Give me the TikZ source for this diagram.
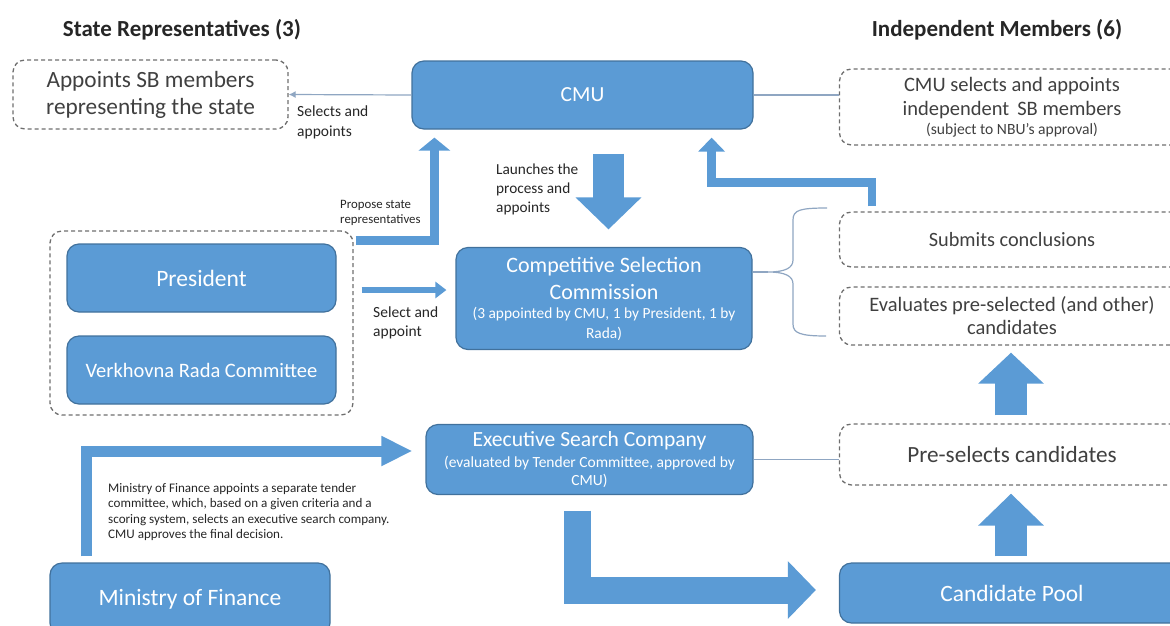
\documentclass[tikz,border=0pt]{standalone}
\usepackage{fontspec}
\setmainfont{Carlito}
\usetikzlibrary{arrows.meta,calc}
\newcommand\fpx[2]{\fontsize{#1pt}{#2pt}\selectfont}
\definecolor{bfill}{HTML}{5B9BD5}
\definecolor{bdraw}{HTML}{41719C}
\definecolor{dgray}{HTML}{6E6E6E}
\definecolor{tgray}{HTML}{404040}
\definecolor{lline}{HTML}{8FA6C2}
\tikzset{
  bluebox/.style={draw=bdraw, fill=bfill, rounded corners=12pt, line width=1.2pt, text=white, align=center, inner sep=0pt},
  dashbox/.style={draw=dgray, dash pattern=on 4pt off 3pt, rounded corners=12pt, line width=1.3pt, text=tgray, align=center, inner sep=0pt},
  thinline/.style={draw=lline, line width=1.2pt},
  blockarrow/.style={draw=bfill, line join=miter},
  lbl/.style={text=black!85, align=left, anchor=west, inner sep=0pt},
}
\begin{document}
\begin{tikzpicture}[x=1pt, y=-1pt]
\useasboundingbox (0,0) rectangle (1170,625);
\begin{scope}
\clip (0,0) rectangle (1170,625);
% titles
\node[font=\bfseries\fpx{23}{26}, text=black!85] (t1) at (182,29.5) {State Representatives (3)};
\node[font=\bfseries\fpx{23}{26}, text=black!85] (t2) at (997,29.5) {Independent Members (6)};

% dashed boxes
\node[dashbox, minimum width=275pt, minimum height=69pt, font=\fpx{23.3}{27}] (appt) at (150.5,94.5) {Appoints SB members\\representing the state};
\node[dashbox, minimum width=345pt, minimum height=76pt, font=\fpx{20.5}{19}] (indep) at (1012,107) {CMU selects and appoints\\[5pt]independent\, SB members\\\fpx{15.6}{19}(subject to NBU’s approval)};
\node[dashbox, minimum width=345pt, minimum height=55pt, font=\fpx{20.3}{23}] (submits) at (1012,239.5) {Submits conclusions};
\node[dashbox, minimum width=345pt, minimum height=58pt, font=\fpx{20.5}{23}] (evals) at (1012,316) {Evaluates pre-selected (and other)\\candidates};
\node[dashbox, minimum width=345pt, minimum height=61pt, font=\fpx{23.2}{24}] (presel) at (1012,454.5) {Pre-selects candidates};
\node[dashbox, minimum width=303pt, minimum height=184pt] (grp) at (201.5,323) {};

% blue boxes
\node[bluebox, minimum width=341pt, minimum height=68pt, font=\fpx{21.5}{24}] (cmu) at (582.5,95) {CMU};
\node[bluebox, minimum width=269pt, minimum height=68pt, font=\fpx{23.5}{24}] (pres) at (201.5,278) {President};
\node[bluebox, minimum width=269pt, minimum height=68pt, font=\fpx{20.5}{24}] (vrc) at (201.5,370) {Verkhovna Rada Committee};
\node[bluebox, minimum width=296pt, minimum height=102pt, font=\fpx{22}{20}] (csc) at (604,298.5) {Competitive Selection\\[7pt]Commission\\[-1pt]\fpx{15.4}{20}(3 appointed by CMU, 1 by President, 1 by\\\fpx{15.4}{20}Rada)};
\node[bluebox, minimum width=327pt, minimum height=70pt, font=\fpx{21.6}{18}] (esc) at (589.5,459.5) {Executive Search Company\\[3pt]\fpx{15.5}{18}(evaluated by Tender Committee, approved by\\\fpx{15.5}{18}CMU)};
\node[bluebox, minimum width=280pt, minimum height=72pt, font=\fpx{23.5}{24}] (mof) at (190,599) {Ministry of Finance};
\node[bluebox, minimum width=345pt, minimum height=60pt, font=\fpx{23.4}{24}] (pool) at (1012,593) {Candidate Pool};

% thin connectors
\draw[thinline, -{Latex[length=7pt, width=7pt]}] (cmu.west) -- (appt.east);
\draw[thinline] (cmu.east) -- (indep.west |- cmu.east);
\draw[thinline] (esc.east) -- (presel.west |- esc.east);
\coordinate (bt) at (768,272);
\draw[thinline] (csc.east |- bt) -- (bt);
\draw[lline, line width=1.2pt] (827,208) .. controls (800,208) and (793,210) .. (793,220) -- (793,260) .. controls (793,268) and (785,272) .. (bt) .. controls (785,272) and (793,276) .. (793,284) -- (793,324) .. controls (793,333) and (800,336) .. (826,336);

% block arrows
\draw[blockarrow, line width=31pt, -{Triangle[width=64pt, length=32pt]}] ($(cmu.south)+(26,24)$) -- ($(csc.north)+(4.5,-17.5)$);
\draw[blockarrow, line width=8.5pt, -{Triangle[width=31pt, length=13pt]}] ($(grp.north east)+(2,10)$) -| ($(cmu.south west)+(23,8)$);
\draw[blockarrow, line width=8.5pt, -{Triangle[width=26pt, length=14pt]}] ($(submits.north west)+(33,-5)$) -- ++(0,-24) -| ($(cmu.south east)+(-42,8)$);
\draw[blockarrow, line width=6pt, -{Triangle[width=16pt, length=11pt]}] ($(grp.east)+(8,-33)$) -- ($(csc.west)+(-9,-8.5)$);
\draw[blockarrow, line width=11pt, -{Triangle[width=28pt, length=31pt]}] ($(mof.north west)+(37.5,-6)$) |- ($(esc.west)+(-13,-8.5)$);
\draw[blockarrow, line width=27pt, -{Triangle[width=56pt, length=28pt]}] ($(esc.south)+(-12.5,15.5)$) |- ($(pool.west)+(-23,-3)$);
\draw[blockarrow, line width=32pt, -{Triangle[width=64pt, length=31pt]}] ($(presel.north)+(-1,-8)$) -- ($(evals.south)+(-1,7)$);
\draw[blockarrow, line width=32pt, -{Triangle[width=64pt, length=32pt]}] ($(pool.north)+(-1,-6)$) -- ($(presel.south)+(-1,8)$);

% labels
\node[lbl, font=\fpx{15.5}{20}] (l1) at (297,122) {Selects and\\appoints};
\node[lbl, font=\fpx{12.8}{15}] (l2) at (340,212.5) {Propose state\\representatives};
\node[lbl, font=\fpx{15.3}{19}] (l3) at (496,189) {Launches the\\process and\\appoints};
\node[lbl, font=\fpx{15.5}{19}] (l4) at (373,322.5) {Select and\\appoint};
\node[lbl, font=\fpx{13.1}{15.4}] (l5) at (108,512) {Ministry of Finance appoints a separate tender\\committee, which, based on a given criteria and a\\scoring system, selects an executive search company.\\CMU approves the final decision.};
\end{scope}
\end{tikzpicture}
\end{document}
